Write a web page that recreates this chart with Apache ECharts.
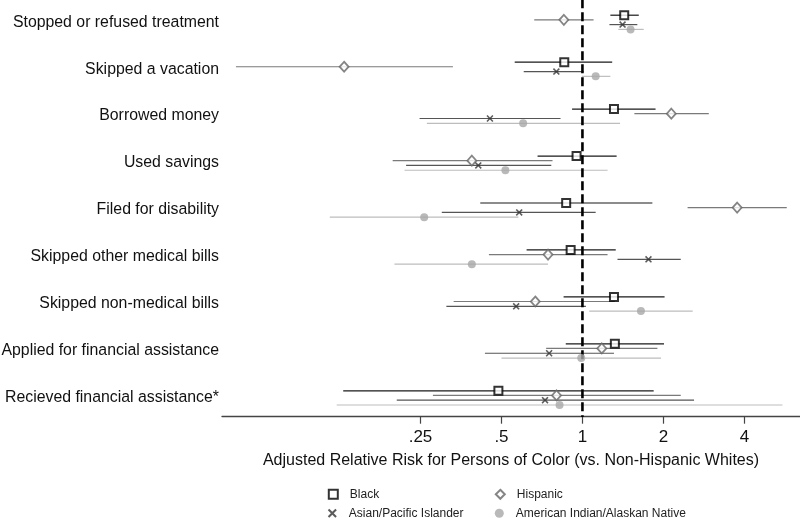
<!DOCTYPE html>
<html>
<head>
<meta charset="utf-8">
<script src="https://cdn.jsdelivr.net/npm/echarts@6/dist/echarts.min.js"></script>
<style>
html,body{margin:0;padding:0;background:#fff;}
#chart{width:800px;height:518px;}
</style>
</head>
<body>
<div id="chart"></div>
<script>
const categories = [
  'Stopped or refused treatment',
  'Skipped a vacation',
  'Borrowed money',
  'Used savings',
  'Filed for disability',
  'Skipped other medical bills',
  'Skipped non-medical bills',
  'Applied for financial assistance',
  'Recieved financial assistance*'
];
const tickValues = [0.25, 0.5, 1, 2, 4];
const tickLabels = ['.25', '.5', '1', '2', '4'];
const refValue = 1;

const blackEst = [1.43, 0.856, 1.31, 0.951, 0.870, 0.904, 1.31, 1.32, 0.487];
const blackLo  = [1.27, 0.560, 0.915, 0.681, 0.417, 0.620, 0.851, 0.867, 0.129];
const blackHi  = [1.62, 1.29, 1.87, 1.34, 1.82, 1.33, 2.02, 2.01, 1.84];

const hispEst = [0.853, 0.130, 2.14, 0.388, 3.76, 0.745, 0.668, 1.18, 0.801];
const hispLo  = [0.662, 0.0515, 1.56, 0.197, 2.46, 0.449, 0.332, 0.733, 0.278];
const hispHi  = [1.10, 0.330, 2.95, 0.774, 5.75, 1.24, 1.32, 1.90, 2.32];

const asianEst = [1.41, 0.800, 0.453, 0.410, 0.582, 1.76, 0.567, 0.752, 0.726];
const asianLo  = [1.26, 0.605, 0.248, 0.221, 0.300, 1.35, 0.312, 0.434, 0.204];
const asianHi  = [1.60, 1.01, 0.829, 0.766, 1.12, 2.32, 1.03, 1.31, 2.60];

const aianEst = [1.51, 1.12, 0.602, 0.517, 0.258, 0.388, 1.65, 0.990, 0.822];
const aianLo  = [1.36, 0.995, 0.264, 0.218, 0.115, 0.200, 1.06, 0.50, 0.122];
const aianHi  = [1.69, 1.27, 1.38, 1.24, 0.578, 0.745, 2.57, 1.96, 5.54];

const FONT = '"Liberation Sans", Arial, Helvetica, sans-serif';

const groups = [
  {name: 'Black', est: blackEst, lo: blackLo, hi: blackHi, off: -7, line: '#1a1a1a',
   symbol: 'rect', size: 8, item: {color: '#fff', borderColor: '#000', borderWidth: 2}},
  {name: 'Hispanic', est: hispEst, lo: hispLo, hi: hispHi, off: -2.4, line: '#7a7a7a',
   symbol: 'diamond', size: [9, 10], item: {color: '#fff', borderColor: '#666', borderWidth: 1.8}},
  {name: 'Asian/Pacific Islander', est: asianEst, lo: asianLo, hi: asianHi, off: 2.4, line: '#555',
   symbol: 'path://M0,1.6L1.6,0L5,3.4L8.4,0L10,1.6L6.6,5L10,8.4L8.4,10L5,6.6L1.6,10L0,8.4L3.4,5Z', size: 7, item: {color: '#333'}},
  {name: 'American Indian/Alaskan Native', est: aianEst, lo: aianLo, hi: aianHi, off: 7.2, line: '#bdbdbd',
   symbol: 'circle', size: 8, item: {color: '#a8a8a8'}}
];

const series = [];
groups.forEach(g => {
  series.push({
    type: 'custom',
    name: g.name + ' CI',
    z: 2,
    silent: true,
    encode: {x: [0, 1], y: 2},
    data: categories.map((c, i) => [g.lo[i], g.hi[i], i]),
    renderItem: function (params, api) {
      const a = api.coord([api.value(0), api.value(2)]);
      const b = api.coord([api.value(1), api.value(2)]);
      return {
        type: 'line',
        shape: {x1: a[0], y1: a[1] + g.off, x2: b[0], y2: b[1] + g.off},
        style: {stroke: g.line, lineWidth: 1.2}
      };
    }
  });
});
// reference dashed line at RR = 1
series.push({
  type: 'custom',
  name: 'ref',
  z: 3,
  silent: true,
  encode: {x: 0, y: 1},
  data: [[refValue, 0]],
  renderItem: function (params, api) {
    const a = api.coord([api.value(0), 0]);
    const b = api.coord([api.value(0), categories.length - 1]);
    return {
      type: 'line',
      shape: {x1: a[0], y1: a[1] - 23, x2: b[0], y2: b[1] + 19.1},
      style: {stroke: '#000', lineWidth: 2.6, lineDash: [9, 4]}
    };
  }
});
groups.forEach(g => {
  series.push({
    type: 'scatter',
    name: g.name,
    z: 5,
    symbol: g.symbol,
    symbolSize: g.size,
    symbolOffset: [0, g.off],
    itemStyle: g.item,
    data: categories.map((c, i) => [g.est[i], i])
  });
});

function legendFor(name, left, top) {
  return {
    orient: 'horizontal',
    left: left, top: top,
    padding: 0,
    itemWidth: 9, itemHeight: 9,
    data: [name],
    textStyle: {fontSize: 12, color: '#222', fontFamily: FONT, padding: [0, 0, 0, 7]},
    selectedMode: false
  };
}

const chart = echarts.init(document.getElementById('chart'), null, {renderer: 'canvas'});
chart.setOption({
  animation: false,
  backgroundColor: '#fff',
  textStyle: {fontFamily: FONT},
  grid: {left: 222, right: 0, top: 22.2, bottom: 518 - 397.8, containLabel: false, outerBoundsMode: 'none'},
  xAxis: {
    type: 'log',
    logBase: 2,
    min: 0.0457,
    max: 6.44,
    offset: 18.9,
    splitLine: {show: false},
    axisLine: {show: true, lineStyle: {color: '#444', width: 1.3}},
    axisTick: {show: true, length: 7, lineStyle: {color: '#444', width: 1.2}, customValues: tickValues},
    axisLabel: {
      customValues: tickValues,
      fontSize: 17, color: '#111', fontFamily: FONT, margin: 12,
      formatter: function (v) {
        const idx = tickValues.findIndex(t => Math.abs(t - v) < 1e-6);
        return idx >= 0 ? tickLabels[idx] : '';
      }
    },
    name: 'Adjusted Relative Risk for Persons of Color (vs. Non-Hispanic Whites)',
    nameLocation: 'middle',
    nameGap: 36,
    nameTextStyle: {fontSize: 16, color: '#111', fontFamily: FONT}
  },
  yAxis: {
    type: 'category',
    data: categories,
    inverse: true,
    boundaryGap: false,
    axisLine: {show: false},
    axisTick: {show: false},
    splitLine: {show: false},
    axisLabel: {fontSize: 15.85, color: '#111', fontFamily: FONT, margin: 3, interval: 0}
  },
  legend: [
    legendFor('Black', 327.8, 488.3),
    legendFor('Asian/Pacific Islander', 327.8, 507.3),
    legendFor('Hispanic', 494.8, 488.3),
    legendFor('American Indian/Alaskan Native', 494.8, 507.3)
  ],
  series: series
});
</script>
</body>
</html>
